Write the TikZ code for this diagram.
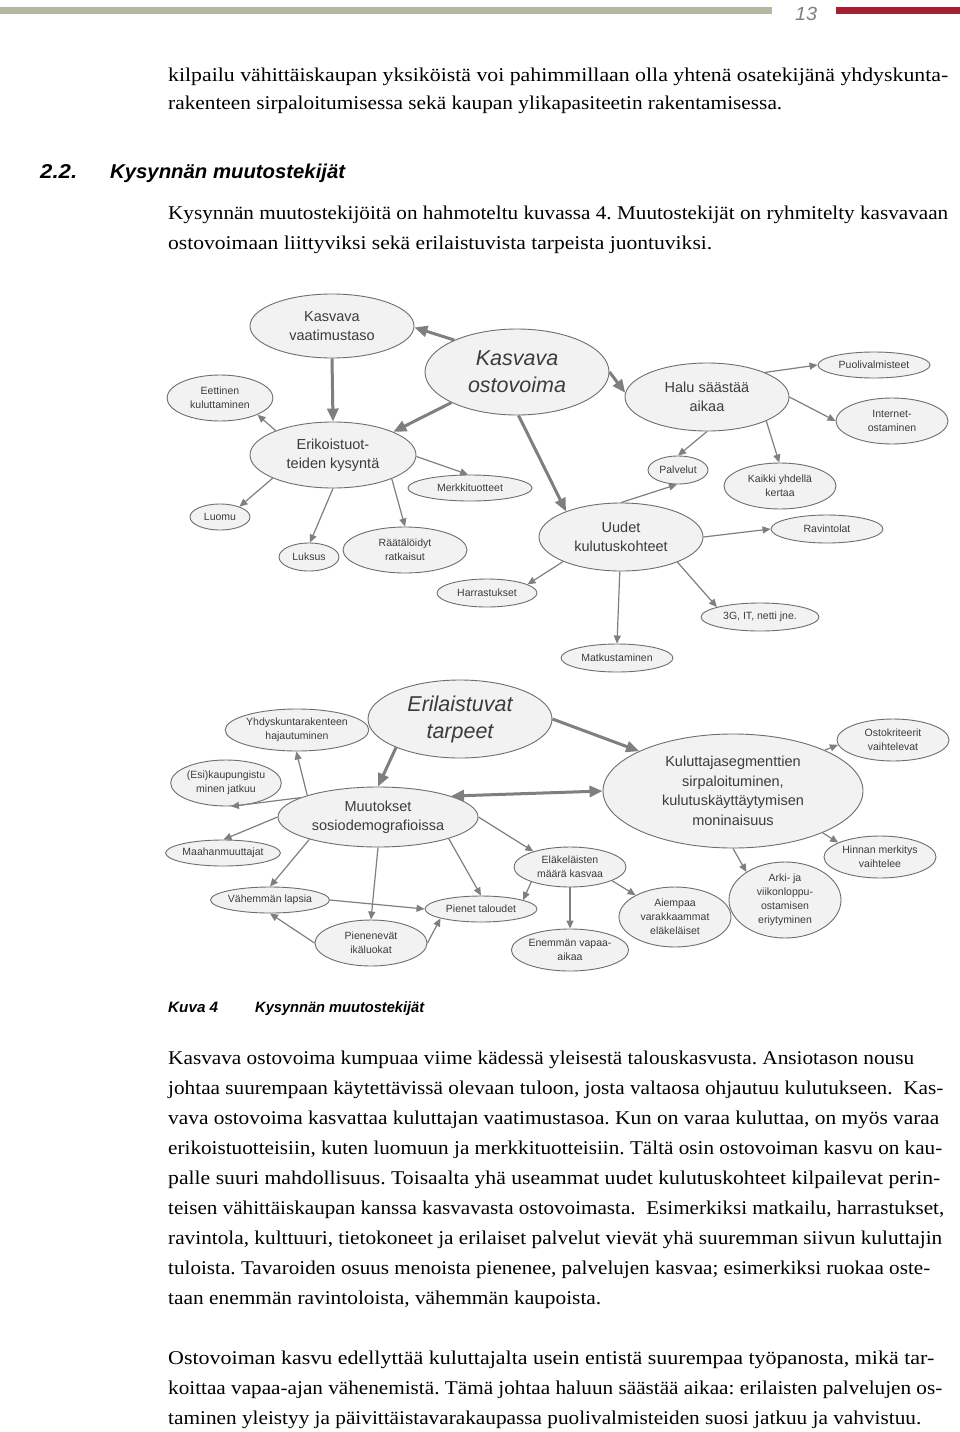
\documentclass[tikz,border=0pt]{standalone}
\usepackage{fontspec}
\setmainfont{Liberation Serif}
\newfontfamily\arialf{Liberation Sans}
\usetikzlibrary{shapes.geometric,arrows.meta}
\definecolor{fillgray}{HTML}{F2F2F2}
\definecolor{edgegray}{HTML}{6E6E6E}
\definecolor{textgray}{HTML}{3C3C3C}
\definecolor{arrowgray}{HTML}{7F7F7F}
\definecolor{bargray}{HTML}{B5B7A0}
\definecolor{barred}{HTML}{A32035}
\frenchspacing
\newcommand\fitw[2]{\resizebox{#1}{\height}{#2}}
\newcommand\bodyf{\fontsize{19.5}{23}\selectfont}
\newcommand\smf{\arialf\fontsize{10.5}{14}\selectfont}
\newcommand\mdf{\arialf\fontsize{14.5}{19.5}\selectfont}
\newcommand\bgf{\arialf\itshape\fontsize{21.5}{27}\selectfont}
\begin{document}
\begin{tikzpicture}[x=1pt,y=-1pt,
  ell/.style={ellipse, draw=edgegray, fill=fillgray, line width=0.9pt, inner sep=0pt, align=center, text=textgray},
  sz/.style 2 args={minimum width=#1pt, minimum height=#2pt},
  thin/.style={draw=arrowgray, line width=1.2pt, -{Triangle[length=8pt,width=7pt]}},
  thick/.style={draw=arrowgray, line width=3pt, -{Triangle[length=13pt,width=11pt]}},
  thickboth/.style={draw=arrowgray, line width=3pt, {Triangle[length=13pt,width=11pt]}-{Triangle[length=13pt,width=11pt]}},
  bodyl/.style={anchor=base west, inner sep=0pt, font=\bodyf},
  headl/.style={anchor=base west, inner sep=0pt, font=\arialf\bfseries\itshape\fontsize{20}{24}\selectfont},
  capl/.style={anchor=base west, inner sep=0pt, font=\arialf\bfseries\itshape\fontsize{15}{18}\selectfont}
]
\path[use as bounding box, fill=white] (0,0) rectangle (960,1432);
% header
\fill[bargray] (0,7) rectangle (772,14);
\fill[barred] (836,7) rectangle (960,14);
\node[anchor=base west, inner sep=0pt, text=arrowgray, font=\arialf\itshape\fontsize{19}{22}\selectfont] (pnum) at (795,20) {\fitw{22pt}{13}};
% intro text
\node[bodyl] (t1) at (168,81) {\fitw{780pt}{kilpailu vähittäiskaupan yksiköistä voi pahimmillaan olla yhtenä osatekijänä yhdyskunta-}};
\node[bodyl] (t2) at (168,109) {\fitw{614pt}{rakenteen sirpaloitumisessa sekä kaupan ylikapasiteetin rakentamisessa.}};
\node[headl] (h1) at (40,178) {\fitw{37pt}{2.2.}};
\node[headl] (h2) at (110,178) {\fitw{235pt}{Kysynnän muutostekijät}};
\node[bodyl] (t3) at (168,219) {\fitw{780pt}{Kysynnän muutostekijöitä on hahmoteltu kuvassa 4. Muutostekijät on ryhmitelty kasvavaan}};
\node[bodyl] (t4) at (168,249) {\fitw{544pt}{ostovoimaan liittyviksi sekä erilaistuvista tarpeista juontuviksi.}};
% ---------- upper diagram ----------
\node[ell, sz={164}{64}, font=\mdf] (vaat) at (332,326) {Kasvava\\vaatimustaso};
\node[ell, sz={184}{86}, font=\bgf] (osto) at (517,372) {Kasvava\\ostovoima};
\node[ell, sz={106}{46}, font=\smf] (eett) at (220,398) {Eettinen\\kuluttaminen};
\node[ell, sz={166}{66}, font=\mdf] (erik) at (333,455) {Erikoistuot-\\teiden kysyntä};
\node[ell, sz={124}{26}, font=\smf] (merk) at (470,488) {Merkkituotteet};
\node[ell, sz={60}{26}, font=\smf] (luomu) at (220,517) {Luomu};
\node[ell, sz={60}{28}, font=\smf] (luksus) at (309,557) {Luksus};
\node[ell, sz={124}{46}, font=\smf] (raat) at (405,550) {Räätälöidyt\\ratkaisut};
\node[ell, sz={100}{28}, font=\smf] (harr) at (487,593) {Harrastukset};
\node[ell, sz={164}{68}, font=\mdf] (uudet) at (621,537) {Uudet\\kulutuskohteet};
\node[ell, sz={112}{28}, font=\smf] (ravin) at (827,529) {Ravintolat};
\node[ell, sz={118}{28}, font=\smf] (g3) at (760,617) {3G, IT, netti jne.};
\node[ell, sz={112}{28}, font=\smf] (matk) at (617,658) {Matkustaminen};
\node[ell, sz={164}{68}, font=\mdf] (halu) at (707,397) {Halu säästää\\aikaa};
\node[ell, sz={112}{26}, font=\smf] (puol) at (874,365) {Puolivalmisteet};
\node[ell, sz={112}{46}, font=\smf] (inet) at (892,421) {Internet-\\ostaminen};
\node[ell, sz={60}{28}, font=\smf] (palv) at (678,470) {Palvelut};
\node[ell, sz={112}{46}, font=\smf] (kaik) at (780,486) {Kaikki yhdellä\\kertaa};
% upper connectors
\draw[thick] (osto.153) -- (vaat.359);
\draw[thick] (vaat.270) -- (erik.90);
\draw[thick] (osto.205) -- (erik.21);
\draw[thick] (osto.272) -- (uudet.155);
\draw[thick] (osto.0) -- (halu.177);
\draw[thin] (erik.157) -- (eett.336);
\draw[thin] (erik.359) -- (merk.98);
\draw[thin] (erik.201) -- (luomu.28);
\draw[thin] (erik.270) -- (luksus.86);
\draw[thin] (erik.338) -- (raat.90);
\draw[thin] (halu.23) -- (puol.180);
\draw[thin] (halu.0) -- (inet.180);
\draw[thin] (halu.270) -- (palv.90);
\draw[thin] (halu.338) -- (kaik.92);
\draw[thin] (uudet.90) -- (palv.266);
\draw[thin] (uudet.0) -- (ravin.180);
\draw[thin] (uudet.336) -- (g3.167);
\draw[thin] (uudet.268) -- (matk.90);
\draw[thin] (uudet.203) -- (harr.12);
% ---------- lower diagram ----------
\node[ell, sz={184}{78}, font=\bgf] (eril) at (460,719) {Erilaistuvat\\tarpeet};
\node[ell, sz={142}{42}, font=\smf] (yhd) at (297,730) {Yhdyskuntarakenteen\\hajautuminen};
\node[ell, sz={110}{46}, font=\smf] (esi) at (226,783) {(Esi)kaupungistu\\minen jatkuu};
\node[ell, sz={200}{60}, font=\mdf] (muut) at (378,817) {Muutokset\\sosiodemografioissa};
\node[ell, sz={260}{114}, font=\mdf] (kulu) at (733,791) {Kuluttajasegmenttien\\sirpaloituminen,\\kulutuskäyttäytymisen\\moninaisuus};
\node[ell, sz={112}{42}, font=\smf] (ostok) at (893,740) {Ostokriteerit\\vaihtelevat};
\node[ell, sz={112}{26}, font=\smf] (maah) at (223,853) {Maahanmuuttajat};
\node[ell, sz={112}{26}, font=\smf] (vah) at (270,900) {Vähemmän lapsia};
\node[ell, sz={112}{26}, font=\smf] (pienet) at (481,909) {Pienet taloudet};
\node[ell, sz={112}{46}, font=\smf] (pienen) at (371,943) {Pienenevät\\ikäluokat};
\node[ell, sz={112}{40}, font=\smf] (elak) at (570,867) {Eläkeläisten\\määrä kasvaa};
\node[ell, sz={112}{42}, font=\smf] (enem) at (570,950) {Enemmän vapaa-\\aikaa};
\node[ell, sz={112}{60}, font=\smf] (aiem) at (675,917) {Aiempaa\\varakkaammat\\eläkeläiset};
\node[ell, sz={112}{76}, font=\smf] (arki) at (785,900) {Arki- ja\\viikonloppu-\\ostamisen\\eriytyminen};
\node[ell, sz={112}{42}, font=\smf] (hinn) at (880,857) {Hinnan merkitys\\vaihtelee};
% lower connectors
\draw[thick] (eril.204) -- (muut.90);
\draw[thick] (eril.0) -- (kulu.157);
\draw[thickboth] (muut.16) -- (kulu.180);
\draw[thin] (muut.163) -- (yhd.268);
\draw[thin] (muut.166) -- (esi.282);
\draw[thin] (muut.180) -- (maah.88);
\draw[thin] (muut.198) -- (vah.90);
\draw[thin] (muut.270) -- (pienen.90);
\draw[thin] (muut.343) -- (pienet.90);
\draw[thin] (muut.0) -- (elak.157);
\draw[thin] (vah.0) -- (pienet.180);
\draw[thin] (pienen.180) -- (vah.270);
\draw[thin] (pienen.0) -- (pienet.193);
\draw[thin] (elak.201) -- (pienet.12);
\draw[thin] (elak.270) -- (enem.90);
\draw[thin] (elak.342) -- (aiem.151);
\draw[thin] (kulu.270) -- (arki.144);
\draw[thin] (kulu.335) -- (hinn.161);
\draw[thin] (kulu.24) -- (ostok.185);
% caption
\node[capl] (c1) at (168,1012) {\fitw{50pt}{Kuva 4}};
\node[capl] (c2) at (255,1012) {\fitw{169pt}{Kysynnän muutostekijät}};
% body paragraph 1
\node[bodyl] (b1) at (168,1064) {\fitw{746pt}{Kasvava ostovoima kumpuaa viime kädessä yleisestä talouskasvusta. Ansiotason nousu}};
\node[bodyl] (b2) at (168,1094) {\fitw{775pt}{johtaa suurempaan käytettävissä olevaan tuloon, josta valtaosa ohjautuu kulutukseen.\ \ Kas-}};
\node[bodyl] (b3) at (168,1124) {\fitw{771pt}{vava ostovoima kasvattaa kuluttajan vaatimustasoa. Kun on varaa kuluttaa, on myös varaa}};
\node[bodyl] (b4) at (168,1154) {\fitw{774pt}{erikoistuotteisiin, kuten luomuun ja merkkituotteisiin. Tältä osin ostovoiman kasvu on kau-}};
\node[bodyl] (b5) at (168,1184) {\fitw{772pt}{palle suuri mahdollisuus. Toisaalta yhä useammat uudet kulutuskohteet kilpailevat perin-}};
\node[bodyl] (b6) at (168,1214) {\fitw{776pt}{teisen vähittäiskaupan kanssa kasvavasta ostovoimasta.\ \ Esimerkiksi matkailu, harrastukset,}};
\node[bodyl] (b7) at (168,1244) {\fitw{774pt}{ravintola, kulttuuri, tietokoneet ja erilaiset palvelut vievät yhä suuremman siivun kuluttajin}};
\node[bodyl] (b8) at (168,1274) {\fitw{762pt}{tuloista. Tavaroiden osuus menoista pienenee, palvelujen kasvaa; esimerkiksi ruokaa oste-}};
\node[bodyl] (b9) at (168,1304) {\fitw{433pt}{taan enemmän ravintoloista, vähemmän kaupoista.}};
% body paragraph 2
\node[bodyl] (b10) at (168,1364) {\fitw{766pt}{Ostovoiman kasvu edellyttää kuluttajalta usein entistä suurempaa työpanosta, mikä tar-}};
\node[bodyl] (b11) at (168,1394) {\fitw{774pt}{koittaa vapaa-ajan vähenemistä. Tämä johtaa haluun säästää aikaa: erilaisten palvelujen os-}};
\node[bodyl] (b12) at (168,1424) {\fitw{753pt}{taminen yleistyy ja päivittäistavarakaupassa puolivalmisteiden suosi jatkuu ja vahvistuu.}};
\end{tikzpicture}
\end{document}
